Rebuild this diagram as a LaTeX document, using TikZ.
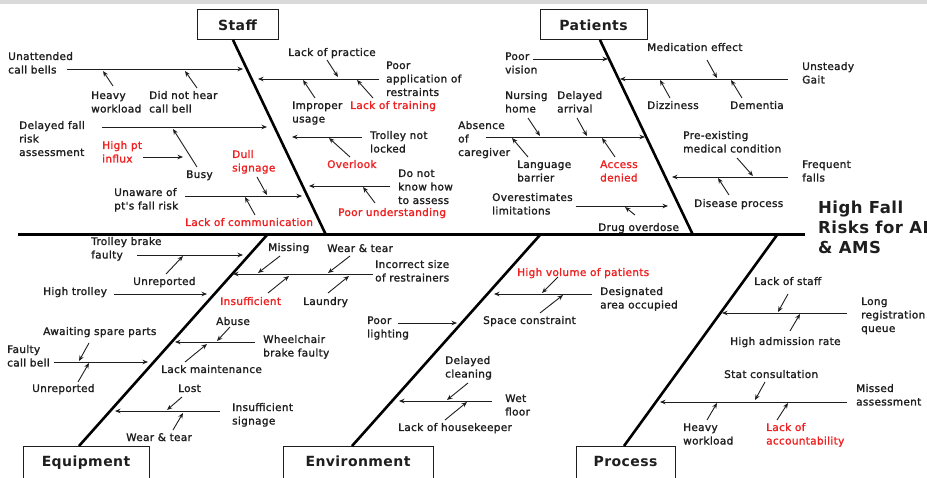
\documentclass[tikz,border=0pt]{standalone}
\usepackage{fontspec}
\usetikzlibrary{arrows.meta}
\newfontfamily\lblfont[LetterSpace=3,FakeBold=1.5]{DejaVu Sans}
\newfontfamily\headfont[LetterSpace=3]{DejaVu Sans}
\definecolor{ink}{RGB}{30,30,30}
\definecolor{hot}{RGB}{240,32,32}
\tikzset{
  lbl/.style={font=\lblfont\fontsize{10.5}{13.5}\selectfont, align=left, inner sep=0pt, anchor=base west, text=ink},
  hotlbl/.style={lbl, text=hot},
  ltwo/.style={yshift=-13.5pt},
  lthree/.style={yshift=-27pt},
  arr/.style={-{Stealth[length=5.5pt,width=4.5pt]}, line width=0.9pt, draw=ink},
  bone/.style={line width=2.6pt, draw=black},
  catbox/.style={draw=ink, line width=1pt, font=\headfont\bfseries\fontsize{14}{16}\selectfont, text=ink, fill=white},
}
\begin{document}
\begin{tikzpicture}[x=1pt,y=-1pt]
\useasboundingbox (0,0) rectangle (927,478);
\fill[white] (0,0) rectangle (927,478);
\fill[black!15] (0,0) rectangle (927,4);

% spine and bones
\coordinate (spineL) at (18,235);
\coordinate (spineR) at (805,235);
\draw[line width=3pt] (spineL) -- (spineR);

\node[catbox, minimum width=81pt, minimum height=30pt] (staffbox) at (237.5,25) {Staff};
\node[catbox, minimum width=107pt, minimum height=30pt] (patbox) at (593.5,25) {Patients};
\node[catbox, minimum width=126pt, anchor=north, inner ysep=9pt, text height=11pt, text depth=30pt] (eqbox) at (86,446) {Equipment};
\node[catbox, minimum width=150pt, anchor=north, inner ysep=9pt, text height=11pt, text depth=30pt] (envbox) at (358,446) {Environment};
\node[catbox, minimum width=99pt, anchor=north, inner ysep=9pt, text height=11pt, text depth=30pt] (procbox) at (625.5,446) {Process};

\coordinate (staffT) at (233,40);  \coordinate (staffB) at (326,235);
\coordinate (patT) at (600,40);    \coordinate (patB) at (693,235);
\coordinate (eqT) at (267,235);    \coordinate (eqB) at (79,446);
\coordinate (envT) at (540,235);   \coordinate (envB) at (352,446);
\coordinate (procT) at (777,235);  \coordinate (procB) at (624,446);
\draw[bone] (staffT) -- (staffB);
\draw[bone] (patT) -- (patB);
\draw[bone] (eqT) -- (eqB);
\draw[bone] (envT) -- (envB);
\draw[bone] (procT) -- (procB);

% title
\node[font=\headfont\bfseries\fontsize{16.5}{20}\selectfont, align=left, inner sep=0pt, anchor=base west, text=ink, yshift=-40pt] (title) at (818,214) {High Fall\\Risks for AI\\\& AMS};

% ---------- Staff ----------
\node[lbl,ltwo] (n1) at (8,60) {Unattended\\call bells};
\node[lbl,ltwo] (n1a) at (91,99) {Heavy\\workload};
\node[lbl,ltwo] (n1b) at (149,99) {Did not hear\\call bell};
\node[lbl,lthree] (n2) at (19,129) {Delayed fall\\risk\\assessment};
\node[lbl] (n2a) at (186,178) {Busy};
\node[hotlbl,ltwo] (n2b) at (102,149) {High pt\\influx};
\node[lbl,ltwo] (n3) at (114,196) {Unaware of\\pt's fall risk};
\node[hotlbl,ltwo] (n3a) at (232,158) {Dull\\signage};
\node[hotlbl] (n3b) at (185,226) {Lack of communication};
\node[lbl,lthree] (n4) at (386,69) {Poor\\application of\\restraints};
\node[lbl] (n4a) at (288,56) {Lack of practice};
\node[lbl,ltwo] (n4b) at (292,109) {Improper\\usage};
\node[hotlbl] (n4c) at (350,109) {Lack of training};
\node[lbl,ltwo] (n5) at (370,139) {Trolley not\\locked};
\node[hotlbl] (n5a) at (327,168) {Overlook};
\node[lbl,lthree] (n6) at (398,177) {Do not\\know how\\to assess};
\node[hotlbl] (n6a) at (338,216) {Poor understanding};

\draw[arr] (67,69) -- (243,69);
\draw[arr] (113,86) -- (103,71);
\draw[arr] (197,88) -- (185,71);
\draw[arr] (102,127) -- (267,127);
\draw[arr] (197,167) -- (173,129);
\draw[arr] (143,157) -- (183,157);
\draw[arr] (185,196) -- (302,196);
\draw[arr] (257,177) -- (267,195);
\draw[arr] (255,215) -- (245,197);
\draw[arr] (379,79) -- (258,79);
\draw[arr] (327,60) -- (338,77);
\draw[arr] (315,98) -- (303,80);
\draw[arr] (373,98) -- (357,80);
\draw[arr] (362,137) -- (292,137);
\draw[arr] (350,157) -- (329,138);
\draw[arr] (390,186) -- (309,186);
\draw[arr] (375,203) -- (363,187);

% ---------- Patients ----------
\node[lbl,ltwo] (p1) at (505,60) {Poor\\vision};
\node[lbl,lthree] (p2) at (458,129) {Absence\\of\\caregiver};
\node[lbl,ltwo] (p2a) at (505,99) {Nursing\\home};
\node[lbl,ltwo] (p2b) at (557,99) {Delayed\\arrival};
\node[lbl,ltwo] (p2c) at (517,168) {Language\\barrier};
\node[hotlbl,ltwo] (p2d) at (600,168) {Access\\denied};
\node[lbl,ltwo] (p3) at (492,201) {Overestimates\\limitations};
\node[lbl] (p3a) at (598,231) {Drug overdose};
\node[lbl,ltwo] (p4) at (802,70) {Unsteady\\Gait};
\node[lbl] (p4a) at (647,51) {Medication effect};
\node[lbl] (p4b) at (647,109) {Dizziness};
\node[lbl] (p4c) at (730,109) {Dementia};
\node[lbl,ltwo] (p5) at (802,168) {Frequent\\falls};
\node[lbl,ltwo] (p5a) at (683,139) {Pre-existing\\medical condition};
\node[lbl] (p5b) at (694,207) {Disease process};

\draw[arr] (533,59) -- (608,59);
\draw[arr] (486,137) -- (645,137);
\draw[arr] (528,118) -- (540,136);
\draw[arr] (577,118) -- (587,136);
\draw[arr] (528,157) -- (512,138);
\draw[arr] (615,157) -- (602,138);
\draw[arr] (576,206) -- (668,206);
\draw[arr] (635,215) -- (625,207);
\draw[arr] (788,79) -- (620,79);
\draw[arr] (707,60) -- (717,78);
\draw[arr] (670,98) -- (660,80);
\draw[arr] (742,98) -- (731,80);
\draw[arr] (788,177) -- (672,177);
\draw[arr] (737,158) -- (753,176);
\draw[arr] (729,195) -- (718,178);

% ---------- Equipment ----------
\node[lbl,ltwo] (e1) at (91,245) {Trolley brake\\faulty};
\node[lbl] (e1a) at (133,285) {Unreported};
\node[lbl] (e2) at (43,295) {High trolley};
\node[lbl,ltwo] (e3) at (7,353) {Faulty\\call bell};
\node[lbl] (e3a) at (43,335) {Awaiting spare parts};
\node[lbl] (e3b) at (32,392) {Unreported};
\node[lbl,ltwo] (e4) at (375,268) {Incorrect size\\of restrainers};
\node[lbl] (e4a) at (268,251) {Missing};
\node[lbl] (e4b) at (327,252) {Wear \& tear};
\node[hotlbl] (e4c) at (220,305) {Insufficient};
\node[lbl] (e4d) at (303,305) {Laundry};
\node[lbl,ltwo] (e5) at (263,343) {Wheelchair\\brake faulty};
\node[lbl] (e5a) at (216,325) {Abuse};
\node[lbl] (e5b) at (161,373) {Lack maintenance};
\node[lbl,ltwo] (e6) at (232,411) {Insufficient\\signage};
\node[lbl] (e6a) at (178,392) {Lost};
\node[lbl] (e6b) at (126,441) {Wear \& tear};

\draw[arr] (137,255) -- (243,255);
\draw[arr] (166,274) -- (183,256);
\draw[arr] (114,294) -- (207,294);
\draw[arr] (54,362) -- (148,362);
\draw[arr] (89,343) -- (79,361);
\draw[arr] (78,382) -- (89,363);
\draw[arr] (373,274) -- (233,274);
\draw[arr] (280,256) -- (258,273);
\draw[arr] (350,256) -- (328,273);
\draw[arr] (268,293) -- (289,276);
\draw[arr] (328,293) -- (349,276);
\draw[arr] (255,342) -- (175,342);
\draw[arr] (230,327) -- (217,341);
\draw[arr] (185,362) -- (207,344);
\draw[arr] (220,411) -- (115,411);
\draw[arr] (182,397) -- (167,410);
\draw[arr] (173,430) -- (183,413);

% ---------- Environment ----------
\node[lbl,ltwo] (v1) at (367,324) {Poor\\lighting};
\node[lbl,ltwo] (v2) at (505,402) {Wet\\floor};
\node[lbl,ltwo] (v2a) at (445,364) {Delayed\\cleaning};
\node[lbl] (v2b) at (398,431) {Lack of housekeeper};
\node[lbl,ltwo] (v3) at (600,295) {Designated\\area occupied};
\node[hotlbl] (v3a) at (517,276) {High volume of patients};
\node[lbl] (v3b) at (483,324) {Space constraint};

\draw[arr] (398,323) -- (457,323);
\draw[arr] (492,401) -- (399,401);
\draw[arr] (468,383) -- (447,400);
\draw[arr] (445,420) -- (467,402);
\draw[arr] (592,294) -- (494,294);
\draw[arr] (558,277) -- (542,293);
\draw[arr] (540,313) -- (563,295);

% ---------- Process ----------
\node[lbl,lthree] (r1) at (861,305) {Long\\registration\\queue};
\node[lbl] (r1a) at (754,285) {Lack of staff};
\node[lbl] (r1b) at (730,345) {High admission rate};
\node[lbl,ltwo] (r2) at (856,392) {Missed\\assessment};
\node[lbl] (r2a) at (724,378) {Stat consultation};
\node[lbl,ltwo] (r2b) at (683,431) {Heavy\\workload};
\node[hotlbl,ltwo] (r2c) at (766,431) {Lack of\\accountability};

\draw[arr] (847,313) -- (722,313);
\draw[arr] (788,294) -- (778,312);
\draw[arr] (790,331) -- (800,314);
\draw[arr] (847,402) -- (660,402);
\draw[arr] (765,382) -- (755,400);
\draw[arr] (707,420) -- (717,403);
\draw[arr] (777,420) -- (788,403);
\end{tikzpicture}
\end{document}
